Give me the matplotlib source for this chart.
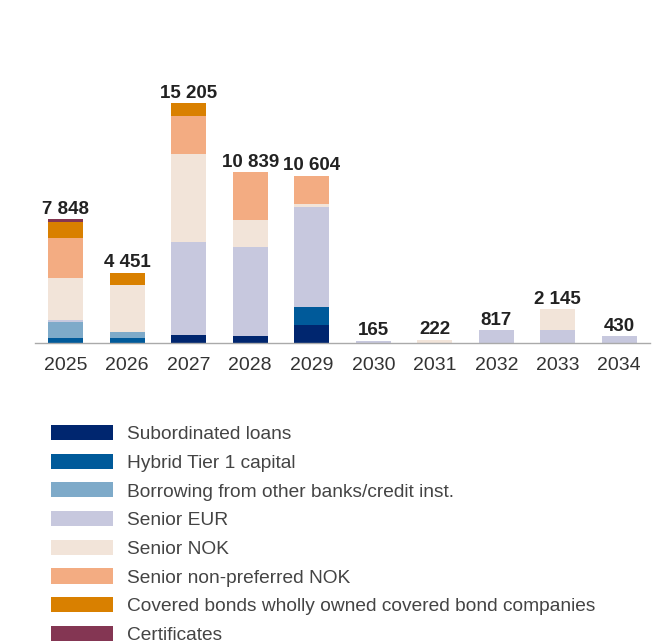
import numpy as np
import matplotlib.pyplot as plt
from matplotlib.patches import Patch

plt.rcParams['font.family'] = ['Liberation Sans', 'DejaVu Sans']

years = ['2025', '2026', '2027', '2028', '2029', '2030', '2031', '2032', '2033', '2034']
totals = [7848, 4451, 15205, 10839, 10604, 165, 222, 817, 2145, 430]

subordinated = [0, 0, 550, 486, 1182, 0, 0, 0, 0, 0]
hybrid = [360, 360, 0, 0, 1140, 0, 0, 0, 0, 0]
borrowing = [1010, 380, 0, 0, 0, 0, 0, 0, 0, 0]
senior_eur = [125, 0, 5870, 5602, 6335, 165, 0, 817, 810, 430]
senior_nok = [2620, 2950, 5595, 1710, 190, 0, 222, 0, 1335, 0]
senior_np_nok = [2540, 0, 2407, 3041, 1757, 0, 0, 0, 0, 0]
covered = [1003, 761, 783, 0, 0, 0, 0, 0, 0, 0]
certificates = [190, 0, 0, 0, 0, 0, 0, 0, 0, 0]

series = [
    ('Subordinated loans', subordinated, '#00266f'),
    ('Hybrid Tier 1 capital', hybrid, '#005a9a'),
    ('Borrowing from other banks/credit inst.', borrowing, '#7eaac9'),
    ('Senior EUR', senior_eur, '#c7c8de'),
    ('Senior NOK', senior_nok, '#f2e4d9'),
    ('Senior non-preferred NOK', senior_np_nok, '#f3ac82'),
    ('Covered bonds wholly owned covered bond companies', covered, '#d98000'),
    ('Certificates', certificates, '#843653'),
]

fig = plt.figure(figsize=(6.7, 6.42), dpi=100)
ax = fig.add_axes([0.0522, 0.4653, 0.918, 0.4178])

x = np.arange(len(years))
bottom = np.zeros(len(years))
for name, vals, color in series:
    vals = np.array(vals, dtype=float)
    ax.bar(x, vals, 0.57, bottom=bottom, color=color, label=name, linewidth=0)
    bottom += vals

# totals printed above each stack
for xi, tot in zip(x, totals):
    ax.text(xi, tot + 100, f'{tot:,}'.replace(',', ' '), ha='center', va='bottom',
            fontsize=13.5, fontweight='bold', color='#222222')

ax.set_xlim(-0.5, 9.5)
ax.set_ylim(0, 17000)
ax.set_xticks(x)
ax.set_xticklabels(years, fontsize=14, color='#333333')
ax.tick_params(axis='x', length=0, pad=10)
ax.set_yticks([])
for side in ['top', 'right', 'left']:
    ax.spines[side].set_visible(False)
ax.spines['bottom'].set_color('#aaaaaa')
ax.spines['bottom'].set_linewidth(1)

handles = [Patch(facecolor=c, edgecolor='none') for _, _, c in series]
labels = [n for n, _, _ in series]
leg = fig.legend(handles, labels, loc='upper left', bbox_to_anchor=(0.0755, 0.338),
                 frameon=False, fontsize=13.8, handlelength=3.24, handleheight=0.84,
                 labelspacing=0.545, handletextpad=0.74, borderaxespad=0, borderpad=0)
for t in leg.get_texts():
    t.set_color('#444444')

fig.savefig('out.png', dpi=100)
